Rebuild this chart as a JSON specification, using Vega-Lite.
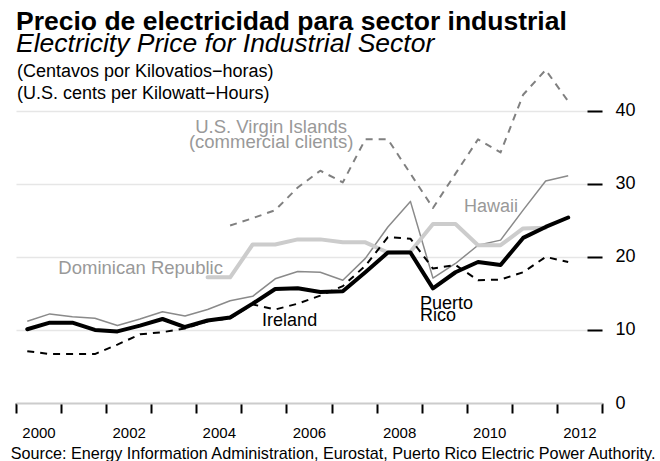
{
  "$schema": "https://vega.github.io/schema/vega-lite/v6.json",
  "width": 586,
  "height": 336,
  "autosize": {"type": "none"},
  "padding": {"left": 16, "top": 67, "right": 58, "bottom": 58},
  "background": "white",
  "config": {"font": "Liberation Sans", "view": {"stroke": null}},
  "title": {
    "text": "Precio de electricidad para sector industrial",
    "subtitle": "Electricity Price for Industrial Sector",
    "anchor": "start",
    "frame": "group",
    "font": "Liberation Sans",
    "fontSize": 26.5,
    "fontWeight": "bold",
    "color": "black",
    "subtitleFont": "Liberation Sans",
    "subtitleFontSize": 26.5,
    "subtitleFontStyle": "italic",
    "subtitleColor": "black",
    "subtitlePadding": -5,
    "offset": 6
  },
  "data": {"name": "prices"},
  "datasets": {
    "prices": [
      {"country": "U.S. Virgin Islands", "period": 2004.75, "price": 24.3},
      {"country": "U.S. Virgin Islands", "period": 2005.25, "price": 25.3},
      {"country": "U.S. Virgin Islands", "period": 2005.75, "price": 26.4},
      {"country": "U.S. Virgin Islands", "period": 2006.25, "price": 29.5},
      {"country": "U.S. Virgin Islands", "period": 2006.75, "price": 31.8},
      {"country": "U.S. Virgin Islands", "period": 2007.25, "price": 30.2},
      {"country": "U.S. Virgin Islands", "period": 2007.75, "price": 36.1},
      {"country": "U.S. Virgin Islands", "period": 2008.25, "price": 36.1},
      {"country": "U.S. Virgin Islands", "period": 2008.75, "price": 31.4},
      {"country": "U.S. Virgin Islands", "period": 2009.25, "price": 26.7},
      {"country": "U.S. Virgin Islands", "period": 2009.75, "price": 31.4},
      {"country": "U.S. Virgin Islands", "period": 2010.25, "price": 36.1},
      {"country": "U.S. Virgin Islands", "period": 2010.75, "price": 34.3},
      {"country": "U.S. Virgin Islands", "period": 2011.25, "price": 42.2},
      {"country": "U.S. Virgin Islands", "period": 2011.75, "price": 45.6},
      {"country": "U.S. Virgin Islands", "period": 2012.25, "price": 41.3},
      {"country": "Hawaii", "period": 2000.25, "price": 11.2},
      {"country": "Hawaii", "period": 2000.75, "price": 12.2},
      {"country": "Hawaii", "period": 2001.25, "price": 11.8},
      {"country": "Hawaii", "period": 2001.75, "price": 11.6},
      {"country": "Hawaii", "period": 2002.25, "price": 10.6},
      {"country": "Hawaii", "period": 2002.75, "price": 11.5},
      {"country": "Hawaii", "period": 2003.25, "price": 12.5},
      {"country": "Hawaii", "period": 2003.75, "price": 11.9},
      {"country": "Hawaii", "period": 2004.25, "price": 12.8},
      {"country": "Hawaii", "period": 2004.75, "price": 14.0},
      {"country": "Hawaii", "period": 2005.25, "price": 14.6},
      {"country": "Hawaii", "period": 2005.75, "price": 17.0},
      {"country": "Hawaii", "period": 2006.25, "price": 18.0},
      {"country": "Hawaii", "period": 2006.75, "price": 17.9},
      {"country": "Hawaii", "period": 2007.25, "price": 16.8},
      {"country": "Hawaii", "period": 2007.75, "price": 19.8},
      {"country": "Hawaii", "period": 2008.25, "price": 24.1},
      {"country": "Hawaii", "period": 2008.75, "price": 27.6},
      {"country": "Hawaii", "period": 2009.25, "price": 17.1},
      {"country": "Hawaii", "period": 2009.75, "price": 19.1},
      {"country": "Hawaii", "period": 2010.25, "price": 21.6},
      {"country": "Hawaii", "period": 2010.75, "price": 22.3},
      {"country": "Hawaii", "period": 2011.25, "price": 26.4},
      {"country": "Hawaii", "period": 2011.75, "price": 30.4},
      {"country": "Hawaii", "period": 2012.25, "price": 31.1},
      {"country": "Dominican Republic", "period": 2004.25, "price": 17.2},
      {"country": "Dominican Republic", "period": 2004.75, "price": 17.2},
      {"country": "Dominican Republic", "period": 2005.25, "price": 21.7},
      {"country": "Dominican Republic", "period": 2005.75, "price": 21.7},
      {"country": "Dominican Republic", "period": 2006.25, "price": 22.4},
      {"country": "Dominican Republic", "period": 2006.75, "price": 22.4},
      {"country": "Dominican Republic", "period": 2007.25, "price": 22.0},
      {"country": "Dominican Republic", "period": 2007.75, "price": 22.0},
      {"country": "Dominican Republic", "period": 2008.25, "price": 20.6},
      {"country": "Dominican Republic", "period": 2008.75, "price": 20.7},
      {"country": "Dominican Republic", "period": 2009.25, "price": 24.5},
      {"country": "Dominican Republic", "period": 2009.75, "price": 24.5},
      {"country": "Dominican Republic", "period": 2010.25, "price": 21.6},
      {"country": "Dominican Republic", "period": 2010.75, "price": 21.6},
      {"country": "Dominican Republic", "period": 2011.25, "price": 23.9},
      {"country": "Dominican Republic", "period": 2011.75, "price": 24.0},
      {"country": "Ireland", "period": 2000.25, "price": 7.1},
      {"country": "Ireland", "period": 2000.75, "price": 6.7},
      {"country": "Ireland", "period": 2001.25, "price": 6.7},
      {"country": "Ireland", "period": 2001.75, "price": 6.7},
      {"country": "Ireland", "period": 2002.25, "price": 8.0},
      {"country": "Ireland", "period": 2002.75, "price": 9.4},
      {"country": "Ireland", "period": 2003.25, "price": 9.7},
      {"country": "Ireland", "period": 2003.75, "price": 10.2},
      {"country": "Ireland", "period": 2004.25, "price": 11.2},
      {"country": "Ireland", "period": 2004.75, "price": 11.6},
      {"country": "Ireland", "period": 2005.25, "price": 13.5},
      {"country": "Ireland", "period": 2005.75, "price": 12.8},
      {"country": "Ireland", "period": 2006.25, "price": 13.6},
      {"country": "Ireland", "period": 2006.75, "price": 14.7},
      {"country": "Ireland", "period": 2007.25, "price": 16.0},
      {"country": "Ireland", "period": 2007.75, "price": 18.8},
      {"country": "Ireland", "period": 2008.25, "price": 22.7},
      {"country": "Ireland", "period": 2008.75, "price": 22.5},
      {"country": "Ireland", "period": 2009.25, "price": 18.4},
      {"country": "Ireland", "period": 2009.75, "price": 18.9},
      {"country": "Ireland", "period": 2010.25, "price": 16.8},
      {"country": "Ireland", "period": 2010.75, "price": 16.9},
      {"country": "Ireland", "period": 2011.25, "price": 17.9},
      {"country": "Ireland", "period": 2011.75, "price": 20.0},
      {"country": "Ireland", "period": 2012.25, "price": 19.3},
      {"country": "Puerto Rico", "period": 2000.25, "price": 10.1},
      {"country": "Puerto Rico", "period": 2000.75, "price": 11.0},
      {"country": "Puerto Rico", "period": 2001.25, "price": 11.0},
      {"country": "Puerto Rico", "period": 2001.75, "price": 10.0},
      {"country": "Puerto Rico", "period": 2002.25, "price": 9.8},
      {"country": "Puerto Rico", "period": 2002.75, "price": 10.6},
      {"country": "Puerto Rico", "period": 2003.25, "price": 11.5},
      {"country": "Puerto Rico", "period": 2003.75, "price": 10.4},
      {"country": "Puerto Rico", "period": 2004.25, "price": 11.3},
      {"country": "Puerto Rico", "period": 2004.75, "price": 11.7},
      {"country": "Puerto Rico", "period": 2005.25, "price": 13.6},
      {"country": "Puerto Rico", "period": 2005.75, "price": 15.6},
      {"country": "Puerto Rico", "period": 2006.25, "price": 15.7},
      {"country": "Puerto Rico", "period": 2006.75, "price": 15.2},
      {"country": "Puerto Rico", "period": 2007.25, "price": 15.3},
      {"country": "Puerto Rico", "period": 2007.75, "price": 17.9},
      {"country": "Puerto Rico", "period": 2008.25, "price": 20.6},
      {"country": "Puerto Rico", "period": 2008.75, "price": 20.6},
      {"country": "Puerto Rico", "period": 2009.25, "price": 15.7},
      {"country": "Puerto Rico", "period": 2009.75, "price": 17.9},
      {"country": "Puerto Rico", "period": 2010.25, "price": 19.3},
      {"country": "Puerto Rico", "period": 2010.75, "price": 18.9},
      {"country": "Puerto Rico", "period": 2011.25, "price": 22.6},
      {"country": "Puerto Rico", "period": 2011.75, "price": 24.1},
      {"country": "Puerto Rico", "period": 2012.25, "price": 25.4}
    ]
  },
  "encoding": {
    "x": {
      "field": "period", "type": "quantitative",
      "scale": {"domain": [2000, 2013], "nice": false, "zero": false},
      "axis": {
        "values": [2000, 2001, 2002, 2003, 2004, 2005, 2006, 2007, 2008, 2009, 2010, 2011, 2012, 2013],
        "format": "d",
        "labelExpr": "datum.value % 2 == 0 && datum.value < 2013 ? datum.label : ''",
        "labelOffset": 22.5,
        "labelFlush": false,
        "labelOverlap": false,
        "labelFontSize": 15,
        "labelColor": "black",
        "labelBaseline": "alphabetic",
        "labelPadding": 24.7,
        "tickSize": 10,
        "tickWidth": 2,
        "tickColor": "black",
        "domainColor": "#cccccc",
        "domainWidth": 2,
        "grid": false,
        "title": "Source: Energy Information Administration, Eurostat, Puerto Rico Electric Power Authority.",
        "titleFontSize": 16.2,
        "titleFontWeight": "normal",
        "titleColor": "black",
        "titleAnchor": "end",
        "titleAlign": "right",
        "titleX": 639,
        "titleY": 55,
        "titleBaseline": "alphabetic"
      }
    },
    "y": {
      "field": "price", "type": "quantitative",
      "scale": {"domain": [0, 46], "nice": false},
      "axis": {
        "orient": "right",
        "values": [0, 10, 20, 30, 40],
        "offset": -15,
        "tickSize": 15,
        "tickWidth": 2,
        "tickColor": "black",
        "tickOpacity": {"condition": {"test": "datum.value === 0", "value": 0}, "value": 1},
        "domain": false,
        "grid": true,
        "gridColor": "#e6e6e6",
        "gridWidth": 1.5,
        "gridOpacity": {"condition": {"test": "datum.value === 0", "value": 0}, "value": 1},
        "labelFontSize": 18,
        "labelColor": "black",
        "labelPadding": 13,
        "title": null
      }
    }
  },
  "layer": [
    {
      "transform": [{"filter": "datum.country === 'U.S. Virgin Islands'"}],
      "mark": {"type": "line", "color": "#808080", "strokeWidth": 2, "strokeDash": [7, 6], "strokeJoin": "round"}
    },
    {
      "transform": [{"filter": "datum.country === 'Hawaii'"}],
      "mark": {"type": "line", "color": "#8a8a8a", "strokeWidth": 1.5, "strokeJoin": "round"}
    },
    {
      "transform": [{"filter": "datum.country === 'Dominican Republic'"}],
      "mark": {"type": "line", "color": "#cccccc", "strokeWidth": 4, "strokeJoin": "round", "strokeCap": "round"}
    },
    {
      "transform": [{"filter": "datum.country === 'Ireland'"}],
      "mark": {"type": "line", "color": "black", "strokeWidth": 2, "strokeDash": [7, 6], "strokeJoin": "round"}
    },
    {
      "transform": [{"filter": "datum.country === 'Puerto Rico'"}],
      "mark": {"type": "line", "color": "black", "strokeWidth": 4, "strokeJoin": "round", "strokeCap": "round"}
    },
    {
      "transform": [{"filter": "datum.country === 'Puerto Rico' && datum.period === 2000.25"}],
      "mark": {"type": "text", "text": ["(Centavos por Kilovatios−horas)", "(U.S. cents per Kilowatt−Hours)"], "align": "left", "baseline": "alphabetic", "fontSize": 18, "lineHeight": 22, "color": "black"},
      "encoding": {
        "x": {"datum": 2000.02, "type": "quantitative"},
        "y": {"datum": 44.6, "type": "quantitative"}
      }
    },
    {
      "transform": [{"filter": "datum.country === 'U.S. Virgin Islands' && datum.period === 2006.75"}],
      "mark": {"type": "text", "text": ["U.S. Virgin Islands", "(commercial clients)"], "align": "center", "baseline": "alphabetic", "fontSize": 18.5, "lineHeight": 15.5, "color": "#999999"},
      "encoding": {
        "x": {"datum": 2005.66, "type": "quantitative"},
        "y": {"datum": 37.0, "type": "quantitative"}
      }
    },
    {
      "transform": [{"filter": "datum.country === 'Dominican Republic' && datum.period === 2004.25"}],
      "mark": {"type": "text", "text": "Dominican Republic", "align": "right", "baseline": "alphabetic", "fontSize": 18.5, "color": "#999999"},
      "encoding": {
        "x": {"datum": 2004.59, "type": "quantitative"},
        "y": {"datum": 17.7, "type": "quantitative"}
      }
    },
    {
      "transform": [{"filter": "datum.country === 'Hawaii' && datum.period === 2010.25"}],
      "mark": {"type": "text", "text": "Hawaii", "align": "center", "baseline": "alphabetic", "fontSize": 18, "color": "#999999"},
      "encoding": {
        "x": {"datum": 2010.54, "type": "quantitative"},
        "y": {"datum": 26.1, "type": "quantitative"}
      }
    },
    {
      "transform": [{"filter": "datum.country === 'Ireland' && datum.period === 2005.75"}],
      "mark": {"type": "text", "text": "Ireland", "align": "center", "baseline": "alphabetic", "fontSize": 18, "color": "black"},
      "encoding": {
        "x": {"datum": 2006.07, "type": "quantitative"},
        "y": {"datum": 10.6, "type": "quantitative"}
      }
    },
    {
      "transform": [{"filter": "datum.country === 'Puerto Rico' && datum.period === 2009.25"}],
      "mark": {"type": "text", "text": ["Puerto", "Rico"], "align": "left", "baseline": "alphabetic", "fontSize": 18, "lineHeight": 12, "color": "black"},
      "encoding": {
        "x": {"datum": 2008.96, "type": "quantitative"},
        "y": {"datum": 12.9, "type": "quantitative"}
      }
    }
  ]
}
